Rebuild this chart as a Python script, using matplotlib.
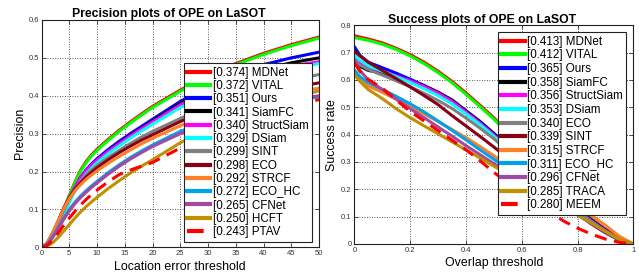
import matplotlib
matplotlib.use('Agg')
import matplotlib.pyplot as plt

plt.rcParams['font.family'] = ['Liberation Sans', 'DejaVu Sans']

# rank colours (same order in both plots)
colors = ['#ff0000', '#00ff00', '#0000ff', '#000000', '#ff00ff', '#00ffff',
          '#808080', '#880015', '#ff7f27', '#00a2e8', '#a349a4', '#bf9000', '#ff0000']

# precision plot data
prec_t = [0, 1, 2, 3, 4, 5, 6, 7, 8, 9, 10, 12, 14, 16, 18, 20, 25, 30, 35, 40, 45, 50]
prec_names = ['MDNet', 'VITAL', 'Ours', 'SiamFC', 'StructSiam', 'DSiam', 'SINT',
              'ECO', 'STRCF', 'ECO_HC', 'CFNet', 'HCFT', 'PTAV']
prec_scores = [0.374, 0.372, 0.351, 0.341, 0.340, 0.329, 0.299, 0.298, 0.292,
               0.272, 0.265, 0.250, 0.243]
prec_mdnet = [0, .008, .031, .064, .100, .137, .172, .203, .226, .244, .259, .285, .309, .331, .352, .372, .415, .452, .485, .512, .535, .555]
prec_vital = [0, .008, .030, .062, .098, .135, .170, .200, .223, .241, .256, .282, .306, .328, .349, .369, .412, .449, .482, .509, .532, .552]
prec_ours = [0, .008, .029, .059, .093, .127, .158, .184, .204, .220, .234, .258, .280, .300, .319, .338, .385, .424, .456, .482, .500, .515]
prec_siamfc = [0, .008, .028, .057, .090, .123, .153, .179, .199, .215, .229, .253, .275, .295, .314, .333, .380, .416, .446, .470, .487, .500]
prec_structsiam = [0, .008, .030, .060, .094, .128, .158, .183, .202, .217, .230, .253, .274, .294, .313, .331, .376, .410, .439, .462, .478, .490]
prec_dsiam = [0, .007, .027, .055, .087, .119, .148, .173, .193, .209, .223, .247, .268, .288, .307, .325, .369, .402, .431, .455, .472, .485]
prec_sint = [0, .010, .035, .066, .098, .127, .152, .173, .190, .204, .216, .237, .256, .274, .291, .306, .340, .372, .400, .423, .441, .456]
prec_eco = [0, .011, .038, .070, .104, .131, .153, .170, .185, .198, .210, .231, .250, .267, .283, .297, .332, .361, .386, .406, .421, .434]
prec_strcf = [0, .011, .038, .069, .102, .128, .149, .165, .179, .191, .202, .222, .240, .257, .273, .288, .321, .350, .374, .394, .408, .420]
prec_ecohc = [0, .008, .029, .053, .078, .100, .119, .135, .149, .162, .174, .197, .218, .237, .254, .270, .306, .334, .358, .376, .388, .397]
prec_cfnet = [0, .007, .026, .050, .074, .096, .115, .131, .145, .158, .170, .193, .214, .233, .250, .266, .300, .330, .355, .375, .390, .400]
prec_hcft = [0, .003, .012, .026, .043, .060, .077, .093, .107, .120, .132, .155, .176, .196, .214, .231, .276, .311, .342, .370, .394, .413]
prec_ptav = [0, .005, .019, .038, .058, .077, .095, .111, .126, .139, .151, .173, .192, .204, .214, .224, .262, .294, .323, .349, .371, .390]
prec_curves = [prec_mdnet, prec_vital, prec_ours, prec_siamfc, prec_structsiam, prec_dsiam,
               prec_sint, prec_eco, prec_strcf, prec_ecohc, prec_cfnet, prec_hcft, prec_ptav]

# success plot data
succ_t = [0, .02, .05, .1, .15, .2, .25, .3, .35, .4, .45, .5, .55, .6, .65, .7, .75, .8, .85, .9, .95, 1.0]
succ_names = ['MDNet', 'VITAL', 'Ours', 'SiamFC', 'StructSiam', 'DSiam', 'ECO',
              'SINT', 'STRCF', 'ECO_HC', 'CFNet', 'TRACA', 'MEEM']
succ_scores = [0.413, 0.412, 0.365, 0.358, 0.356, 0.353, 0.340, 0.339, 0.315,
               0.311, 0.296, 0.285, 0.280]
succ_mdnet = [.762, .757, .750, .736, .716, .693, .665, .632, .595, .553, .508, .462, .410, .356, .300, .245, .190, .138, .092, .053, .022, 0]
succ_vital = [.755, .751, .745, .731, .712, .688, .660, .627, .590, .548, .503, .457, .405, .351, .296, .241, .187, .135, .090, .051, .021, 0]
succ_ours = [.722, .690, .665, .645, .625, .603, .580, .555, .527, .488, .449, .405, .360, .313, .265, .217, .172, .128, .088, .052, .020, 0]
succ_siamfc = [.665, .650, .635, .625, .612, .597, .578, .555, .526, .486, .446, .402, .357, .310, .262, .214, .168, .125, .086, .050, .019, 0]
succ_structsiam = [.680, .665, .648, .632, .615, .597, .576, .552, .522, .483, .443, .399, .354, .307, .260, .212, .166, .123, .084, .049, .018, 0]
succ_dsiam = [.690, .672, .652, .632, .612, .591, .568, .543, .513, .476, .437, .394, .350, .304, .257, .209, .162, .118, .079, .043, .014, 0]
succ_eco = [.670, .655, .638, .618, .597, .575, .551, .525, .496, .461, .424, .385, .342, .298, .252, .206, .161, .119, .082, .047, .017, 0]
succ_sint = [.705, .688, .665, .635, .605, .575, .543, .510, .470, .432, .394, .355, .314, .272, .230, .188, .148, .109, .073, .041, .014, 0]
succ_strcf = [.625, .600, .578, .555, .530, .503, .476, .448, .419, .389, .357, .323, .288, .252, .216, .183, .157, .132, .105, .068, .028, 0]
succ_ecohc = [.637, .612, .590, .566, .540, .513, .483, .450, .416, .381, .345, .310, .275, .240, .205, .172, .140, .110, .078, .045, .015, 0]
succ_cfnet = [.670, .635, .600, .565, .530, .495, .462, .428, .395, .360, .327, .294, .262, .230, .198, .167, .136, .106, .075, .044, .015, 0]
succ_traca = [.620, .595, .565, .532, .495, .462, .432, .403, .374, .344, .315, .285, .256, .227, .197, .167, .137, .107, .077, .046, .017, 0]
succ_meem = [.663, .632, .602, .570, .527, .485, .450, .415, .380, .345, .305, .262, .224, .188, .152, .118, .084, .058, .036, .018, .006, 0]
succ_curves = [succ_mdnet, succ_vital, succ_ours, succ_siamfc, succ_structsiam, succ_dsiam,
               succ_eco, succ_sint, succ_strcf, succ_ecohc, succ_cfnet, succ_traca, succ_meem]


def draw(ax, t, curves, names, scores):
    for i, vals in enumerate(curves):
        label = '[%.3f] %s' % (scores[i], names[i])
        if i == len(curves) - 1:
            ax.plot(t, vals, color=colors[i], lw=2.2, dashes=(4, 2.5), label=label)
        else:
            ax.plot(t, vals, color=colors[i], lw=2.2, label=label)
    ax.grid(True, color='#222222', linestyle=(0, (1, 2)), linewidth=0.6)
    ax.tick_params(direction='in', length=3, width=0.6, labelsize=5.5,
                   colors='#333333', top=True, right=True, pad=2)
    for s in ax.spines.values():
        s.set_linewidth(0.8)
        s.set_color('#222222')


def add_legend(ax, anchor, spacing):
    leg = ax.legend(loc='upper right', bbox_to_anchor=anchor, fontsize=8.4,
                    handlelength=2.0, handletextpad=0.2, labelspacing=spacing,
                    borderpad=0.3, borderaxespad=0, fancybox=False, framealpha=1,
                    edgecolor='#222222')
    leg.get_frame().set_linewidth(0.8)
    for ln in leg.get_lines():
        ln.set_linewidth(3)
    return leg


fig = plt.figure(figsize=(6.39, 2.8), dpi=100)

# precision
ax1 = fig.add_axes([0.0651, 0.1168, 0.4341, 0.8118])
draw(ax1, prec_t, prec_curves, prec_names, prec_scores)
ax1.set_xlim(0, 50)
ax1.set_ylim(0, 0.6)
ax1.set_xticks(range(0, 51, 5))
ax1.set_yticks([0, 0.1, 0.2, 0.3, 0.4, 0.5, 0.6])
ax1.set_yticklabels(['0', '0.1', '0.2', '0.3', '0.4', '0.5', '0.6'])
ax1.set_title('Precision plots of OPE on LaSOT', fontsize=8.8, fontweight='bold', pad=2, x=0.457)
ax1.set_xlabel('Location error threshold', fontsize=8.9, labelpad=3)
ax1.set_ylabel('Precision', fontsize=8.9, labelpad=2)
add_legend(ax1, (0.975, 0.81), 0.11)

# success
ax2 = fig.add_axes([0.5545, 0.1286, 0.4366, 0.781])
draw(ax2, succ_t, succ_curves, succ_names, succ_scores)
ax2.set_xlim(0, 1)
ax2.set_ylim(0, 0.8)
ax2.set_xticks([0, 0.2, 0.4, 0.6, 0.8, 1])
ax2.set_xticklabels(['0', '0.2', '0.4', '0.6', '0.8', '1'])
ax2.set_yticks([0, 0.1, 0.2, 0.3, 0.4, 0.5, 0.6, 0.7, 0.8])
ax2.set_yticklabels(['0', '0.1', '0.2', '0.3', '0.4', '0.5', '0.6', '0.7', '0.8'])
ax2.set_title('Success plots of OPE on LaSOT', fontsize=8.8, fontweight='bold', pad=2, x=0.459)
ax2.set_xlabel('Overlap threshold', fontsize=8.9, labelpad=2)
ax2.set_ylabel('Success rate', fontsize=8.9, labelpad=2)
add_legend(ax2, (0.975, 0.968), 0.14)

fig.savefig('out.png', dpi=100)
